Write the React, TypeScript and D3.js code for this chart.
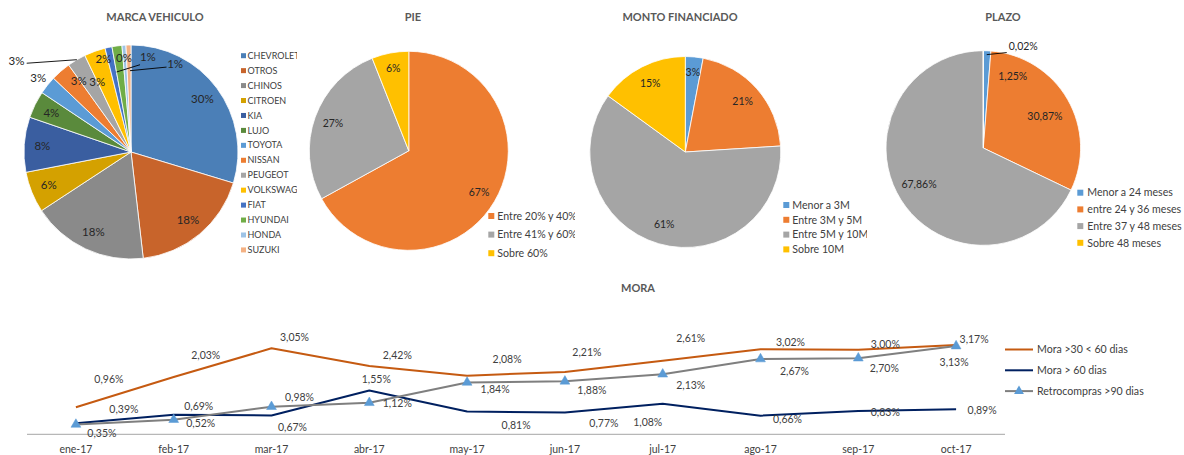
import React from 'react';
import * as d3 from 'd3';

// ---- datos ----
const brandNames = ['CHEVROLET', 'OTROS', 'CHINOS', 'CITROEN', 'KIA', 'LUJO', 'TOYOTA', 'NISSAN', 'PEUGEOT', 'VOLKSWAGEN', 'FIAT', 'HYUNDAI', 'HONDA', 'SUZUKI'];
const brandShare = [29.7, 18.5, 17.6, 6.2, 8.3, 4.1, 2.75, 3.0, 2.8, 3.2, 1.05, 1.5, 0.6, 0.75];
const brandLabels = ['30%', '18%', '18%', '6%', '8%', '4%', '3%', '3%', '3%', '3%', '2%', '0%', '1%', '1%'];

const pieNames = ['Entre 20% y 40%', 'Entre 41% y 60%', 'Sobre 60%'];
const pieShare = [67, 27, 6];

const montoNames = ['Menor a 3M', 'Entre 3M y 5M', 'Entre 5M y 10M', 'Sobre 10M'];
const montoShare = [3, 21, 61, 15];

const plazoNames = ['Menor a 24 meses', 'entre 24 y 36 meses', 'Entre 37 y 48 meses', 'Sobre 48 meses'];
const plazoShare = [1.25, 30.87, 67.86, 0.02];

const months = ['ene-17', 'feb-17', 'mar-17', 'abr-17', 'may-17', 'jun-17', 'jul-17', 'ago-17', 'sep-17', 'oct-17'];
const mora30 = [0.96, 2.03, 3.05, 2.42, 2.08, 2.21, 2.61, 3.02, 3.00, 3.17];
const mora60 = [0.39, 0.69, 0.67, 1.55, 0.81, 0.77, 1.08, 0.66, 0.83, 0.89];
const retro90 = [0.35, 0.52, 0.98, 1.12, 1.84, 1.88, 2.13, 2.67, 2.70, 3.13];

// ---- estilo ----
const FONT = 'Lato, "Open Sans", sans-serif';
const TITLE = '#595959';
const brandColors = ['#4b7fb7', '#c8642b', '#8a8a8a', '#d4a100', '#3a5ea0', '#5a8a3c', '#5b9bd5', '#ed7d31', '#a5a5a5', '#ffc000', '#4472c4', '#70ad47', '#9dc3e6', '#f4b183'];
const office = ['#5b9bd5', '#ed7d31', '#a5a5a5', '#ffc000'];

// ubicacion de etiquetas (angulo en grados, radio relativo); sin a = centro del sector
type Spot = { a?: number; r: number; leader?: [number, number, number, number] };
const brandSpots: Spot[] = [
  { r: 0.83 }, { r: 0.83 }, { r: 0.83 }, { r: 0.83 }, { r: 0.83 }, { r: 0.83 },
  { r: 1.11 },
  { a: 323.5, r: 0.82 },
  { a: 308.6, r: 1.37, leader: [310.4, 1.28, 329.6, 1.0] },
  { a: 334.4, r: 0.73 },
  { a: 343.5, r: 0.91 },
  { a: 355.7, r: 0.88 },
  { a: 10.1, r: 0.9, leader: [349.8, 0.76, 5.9, 0.82] },
  { a: 26.6, r: 0.92, leader: [359.3, 0.76, 22.7, 0.86] },
];
const pieSpots: Spot[] = [{ r: 0.82 }, { r: 0.81 }, { r: 0.84 }];
const montoSpots: Spot[] = [{ r: 0.84 }, { r: 0.8 }, { r: 0.79 }, { r: 0.81 }];
const plazoSpots: Spot[] = [
  { a: 22.2, r: 0.8 },
  { a: 63.1, r: 0.71 },
  { a: 240.4, r: 0.76 },
  { a: 21.5, r: 1.12, leader: [2.1, 0.96, 13.8, 1.01] },
];

const labelNudge = {
  o: [[33, -28], [32, -22], [23, -11], [28, -11], [40, -16], [22, -20], [28, -22], [30, -7], [27, -5], [18, -6]],
  n: [[48, -14], [25, -9], [21, 12], [7, -11], [49, 14], [39, 11], [-15, 18], [27, 4], [27, 1], [26, 1]],
  g: [[26, 9], [27, 4], [28, -9], [28, 1], [28, 7], [27, 9], [28, 11], [34, 12], [26, 10], [-2, 16]],
};

const rad = (deg: number) => (deg * Math.PI) / 180;
const polar = (cx: number, cy: number, a: number, r: number) => [cx + r * Math.sin(a), cy - r * Math.cos(a)];
const comma = (v: number, d: number) => d3.format(`.${d}f`)(v).replace('.', ',') + '%';

type PieProps = {
  cx: number; cy: number; r: number; values: number[]; colors: string[];
  labels: string[]; spots: Spot[]; fontSize: number;
};

const Pie = ({ cx, cy, r, values, colors, labels, spots, fontSize }: PieProps) => {
  const arcs = d3.pie<number>().sort(null).value(d => d)(values);
  const arc = d3.arc<d3.PieArcDatum<number>>().innerRadius(0).outerRadius(r);
  return (
    <g>
      {arcs.map((a, i) => (
        <path key={i} d={arc(a) || ''} transform={`translate(${cx},${cy})`} fill={colors[i]} stroke="#fff" strokeWidth={0.8} />
      ))}
      {arcs.map((a, i) => {
        const s = spots[i];
        const ang = s.a != null ? rad(s.a) : (a.startAngle + a.endAngle) / 2;
        const [x, y] = polar(cx, cy, ang, s.r * r);
        return (
          <g key={i}>
            {s.leader && (() => {
              const [x1, y1] = polar(cx, cy, rad(s.leader[0]), s.leader[1] * r);
              const [x2, y2] = polar(cx, cy, rad(s.leader[2]), s.leader[3] * r);
              return <line x1={x1} y1={y1} x2={x2} y2={y2} stroke="#000" strokeWidth={0.9} />;
            })()}
            <text x={x} y={y} dy="0.35em" textAnchor="middle" fontSize={fontSize} fill="#262626">{labels[i]}</text>
          </g>
        );
      })}
    </g>
  );
};

const Legend = ({ x, y, step, names, colors, size, fontSize, textGap }: any) => (
  <g>
    {names.map((n: string, i: number) => (
      <g key={n} transform={`translate(${x},${y + i * step})`}>
        <rect x={0} y={-size / 2} width={size} height={size} fill={colors[i]} />
        <text x={size + textGap} dy="0.35em" fontSize={fontSize} fill="#404040">{n}</text>
      </g>
    ))}
  </g>
);

const Title = ({ x, y, text }: { x: number; y: number; text: string }) => (
  <text x={x} y={y} textAnchor="middle" fontSize={11} fontWeight="bold" fill={TITLE}>{text}</text>
);

const MoraChart = () => {
  const x = d3.scaleBand<string>().domain(months).range([27, 1005]);
  const y = d3.scaleLinear().domain([0, 3.5]).range([434.3, 434.3 - 3.5 * 28.2]);
  const cxm = (m: string) => (x(m) as number) + x.bandwidth() / 2;
  const line = d3.line<number>().x((_, i) => cxm(months[i])).y(d => y(d));
  const tri = d3.symbol().type(d3.symbolTriangle).size(42)();
  const series = [
    { key: 'o', name: 'Mora >30 < 60 dias', values: mora30, color: '#c55a11' },
    { key: 'n', name: 'Mora > 60 dias', values: mora60, color: '#002060' },
    { key: 'g', name: 'Retrocompras >90 dias', values: retro90, color: '#7f7f7f', marker: true },
  ];
  return (
    <g>
      <text x={638} y={292} textAnchor="middle" fontSize={11} fontWeight="bold" fill={TITLE}>MORA</text>
      <line x1={27} x2={1005} y1={y(0)} y2={y(0)} stroke="#a6a6a6" strokeWidth={1} />
      {months.map(m => (
        <text key={m} x={cxm(m)} y={453} textAnchor="middle" fontSize={10.5} fill="#404040">{m}</text>
      ))}
      {series.map(s => (
        <g key={s.key}>
          <path d={line(s.values) || ''} fill="none" stroke={s.color} strokeWidth={2} strokeLinejoin="round" />
          {s.marker && s.values.map((v, i) => (
            <path key={i} d={tri || ''} transform={`translate(${cxm(months[i])},${y(v)})`} fill="#5b9bd5" stroke="#5b9bd5" strokeWidth={0.5} />
          ))}
        </g>
      ))}
      {series.map(s => s.values.map((v, i) => {
        const [dx, dy] = (labelNudge as any)[s.key][i];
        return (
          <text key={s.key + i} x={cxm(months[i]) + dx} y={y(v) + dy} dy="0.35em" textAnchor="middle" fontSize={10.5} fill="#404040">{comma(v, 2)}</text>
        );
      }))}
      {series.map((s, i) => {
        const ly = 349.5 + i * 20.8;
        return (
          <g key={'l' + s.key}>
            <line x1={1005} x2={1033} y1={ly} y2={ly} stroke={s.color} strokeWidth={2} />
            {s.marker && <path d={tri || ''} transform={`translate(1019,${ly})`} fill="#5b9bd5" />}
            <text x={1037} y={ly} dy="0.35em" fontSize={10.6} fill="#404040">{s.name}</text>
          </g>
        );
      })}
    </g>
  );
};

export default function App() {
  return (
    <svg width={1184} height={455} style={{ position: 'absolute', left: 0, top: 0, background: '#fff' }} fontFamily={FONT}>
      <defs>
        <clipPath id="c1"><rect x={0} y={0} width={297} height={275} /></clipPath>
        <clipPath id="c2"><rect x={300} y={0} width={275} height={275} /></clipPath>
        <clipPath id="c3"><rect x={580} y={0} width={287} height={275} /></clipPath>
      </defs>
      <rect width={1184} height={455} fill="#fff" />

      <g clipPath="url(#c1)">
        <Title x={155} y={21} text="MARCA VEHICULO" />
        <Pie cx={131} cy={152} r={107} values={brandShare} colors={brandColors} labels={brandLabels} spots={brandSpots} fontSize={11.5} />
        <Legend x={241} y={55.7} step={14.94} names={brandNames} colors={brandColors} size={5} fontSize={9} textGap={1.5} />
      </g>

      <g clipPath="url(#c2)">
        <Title x={413} y={21} text="PIE" />
        <Pie cx={408.8} cy={150.8} r={99.5} values={pieShare} colors={[office[1], office[2], office[3]]}
          labels={pieShare.map(v => v + '%')} spots={pieSpots} fontSize={10.5} />
        <Legend x={488.3} y={216} step={18.6} names={pieNames} colors={[office[1], office[2], office[3]]} size={6} fontSize={10.6} textGap={3} />
      </g>

      <g clipPath="url(#c3)">
        <Title x={680} y={21} text="MONTO FINANCIADO" />
        <Pie cx={685.3} cy={152} r={95.5} values={montoShare} colors={office}
          labels={montoShare.map(v => v + '%')} spots={montoSpots} fontSize={10.5} />
        <Legend x={783.3} y={205} step={14.8} names={montoNames} colors={office} size={6} fontSize={10.6} textGap={3} />
      </g>

      <g>
        <Title x={1003} y={21} text="PLAZO" />
        <Pie cx={983.3} cy={148} r={97.3} values={plazoShare} colors={office}
          labels={plazoShare.map(v => comma(v, 2))} spots={plazoSpots} fontSize={10.5} />
        <Legend x={1077.3} y={192.7} step={16.7} names={plazoNames} colors={office} size={6} fontSize={10.6} textGap={4} />
      </g>

      <MoraChart />
    </svg>
  );
}
